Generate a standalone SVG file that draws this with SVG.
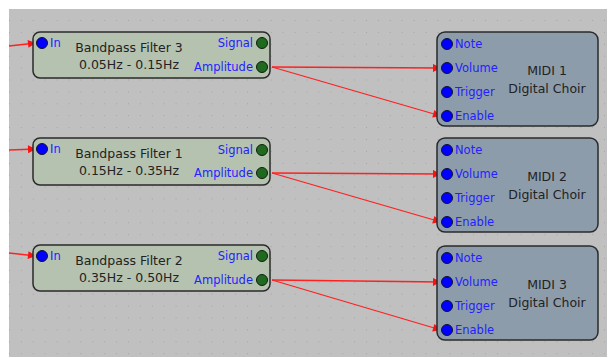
<svg xmlns="http://www.w3.org/2000/svg" width="610" height="358" viewBox="0 0 610 358">
<style>
.filt{fill:#b5c2b0;stroke:#2a2a2a;stroke-width:1.5}
.midi{fill:#8d9caa;stroke:#2a2a2a;stroke-width:1.5}
.pb{fill:#0000ff;stroke:#101030;stroke-width:1}
.pg{fill:#1f6a1f;stroke:#102010;stroke-width:1}
.pl{font-family:"DejaVu Sans",sans-serif;font-size:11.5px;fill:#2222ff}
.tt{font-family:"DejaVu Sans",sans-serif;font-size:12.5px;fill:#222;text-anchor:middle}
.r{text-anchor:end}
.wire{stroke:#ff2020;stroke-width:1.3;fill:none;marker-end:url(#ah)}
</style>
<defs>
<pattern id="dots" x="9" y="20" width="11.9" height="11.9" patternUnits="userSpaceOnUse">
<rect x="0" y="0" width="1" height="1" fill="#a4a4a4"/>
</pattern>
<marker id="ah" viewBox="0 0 10 10" refX="10" refY="5" markerWidth="10" markerHeight="8" markerUnits="userSpaceOnUse" orient="auto">
<path d="M0,0 L10,5 L0,10 z" fill="#ff1010"/>
</marker>
</defs>
<rect x="0" y="0" width="610" height="358" fill="#ffffff"/>
<rect x="9" y="9" width="598" height="348" fill="#c0c0c0"/>
<rect x="9" y="9" width="598" height="348" fill="url(#dots)"/>

<g id="connectors">
<path class="wire" d="M9,46 L36,43"/>
<path class="wire" d="M9,150 L36,149"/>
<path class="wire" d="M9,253 L36,256"/>
<path class="wire" d="M272,67 L441,68"/>
<path class="wire" d="M272,67 L441,116"/>
<path class="wire" d="M272,173 L441,174"/>
<path class="wire" d="M272,173 L441,222"/>
<path class="wire" d="M272,280 L441,282"/>
<path class="wire" d="M272,280 L441,330"/>
</g>

<g id="filter3">
<rect class="filt" x="33" y="32" width="237" height="46" rx="7"/>
<circle class="pb" cx="42" cy="43" r="5.5"/>
<circle class="pg" cx="262" cy="43" r="5.5"/>
<circle class="pg" cx="262" cy="67" r="5.5"/>
<text class="pl" x="50" y="47">In</text>
<text class="pl r" x="253" y="47">Signal</text>
<text class="pl r" x="253" y="71">Amplitude</text>
<text class="tt" x="129" y="52">Bandpass Filter 3</text>
<text class="tt" x="129" y="69">0.05Hz - 0.15Hz</text>
</g>

<g id="filter1">
<rect class="filt" x="33" y="138" width="237" height="47" rx="7"/>
<circle class="pb" cx="42" cy="149" r="5.5"/>
<circle class="pg" cx="262" cy="150" r="5.5"/>
<circle class="pg" cx="262" cy="173" r="5.5"/>
<text class="pl" x="50" y="153">In</text>
<text class="pl r" x="253" y="154">Signal</text>
<text class="pl r" x="253" y="177">Amplitude</text>
<text class="tt" x="129" y="158">Bandpass Filter 1</text>
<text class="tt" x="129" y="175">0.15Hz - 0.35Hz</text>
</g>

<g id="filter2">
<rect class="filt" x="33" y="245" width="237" height="46" rx="7"/>
<circle class="pb" cx="42" cy="256" r="5.5"/>
<circle class="pg" cx="262" cy="256" r="5.5"/>
<circle class="pg" cx="262" cy="280" r="5.5"/>
<text class="pl" x="50" y="260">In</text>
<text class="pl r" x="253" y="260">Signal</text>
<text class="pl r" x="253" y="284">Amplitude</text>
<text class="tt" x="129" y="265">Bandpass Filter 2</text>
<text class="tt" x="129" y="282">0.35Hz - 0.50Hz</text>
</g>

<g id="midi1">
<rect class="midi" x="437" y="32" width="161" height="94" rx="8"/>
<circle class="pb" cx="447" cy="44" r="5.5"/>
<circle class="pb" cx="447" cy="68" r="5.5"/>
<circle class="pb" cx="447" cy="92" r="5.5"/>
<circle class="pb" cx="447" cy="116" r="5.5"/>
<text class="pl" x="455" y="48">Note</text>
<text class="pl" x="455" y="72">Volume</text>
<text class="pl" x="455" y="96">Trigger</text>
<text class="pl" x="455" y="120">Enable</text>
<text class="tt" x="547" y="75">MIDI 1</text>
<text class="tt" x="547" y="93">Digital Choir</text>
</g>

<g id="midi2">
<rect class="midi" x="437" y="138" width="161" height="94" rx="8"/>
<circle class="pb" cx="447" cy="150" r="5.5"/>
<circle class="pb" cx="447" cy="174" r="5.5"/>
<circle class="pb" cx="447" cy="198" r="5.5"/>
<circle class="pb" cx="447" cy="222" r="5.5"/>
<text class="pl" x="455" y="154">Note</text>
<text class="pl" x="455" y="178">Volume</text>
<text class="pl" x="455" y="202">Trigger</text>
<text class="pl" x="455" y="226">Enable</text>
<text class="tt" x="547" y="181">MIDI 2</text>
<text class="tt" x="547" y="199">Digital Choir</text>
</g>

<g id="midi3">
<rect class="midi" x="437" y="246" width="161" height="94" rx="8"/>
<circle class="pb" cx="447" cy="258" r="5.5"/>
<circle class="pb" cx="447" cy="282" r="5.5"/>
<circle class="pb" cx="447" cy="306" r="5.5"/>
<circle class="pb" cx="447" cy="330" r="5.5"/>
<text class="pl" x="455" y="262">Note</text>
<text class="pl" x="455" y="286">Volume</text>
<text class="pl" x="455" y="310">Trigger</text>
<text class="pl" x="455" y="334">Enable</text>
<text class="tt" x="547" y="289">MIDI 3</text>
<text class="tt" x="547" y="307">Digital Choir</text>
</g>
</svg>
